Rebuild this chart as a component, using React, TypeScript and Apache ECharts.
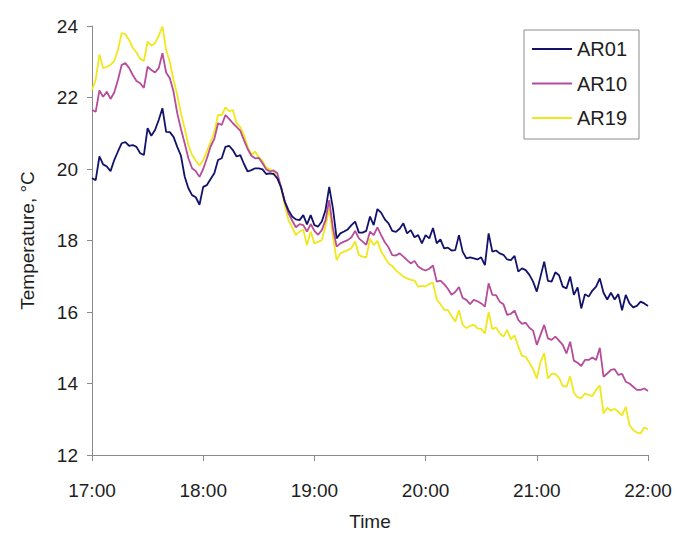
import React, { useEffect, useRef } from "react";
import * as echarts from "echarts";

// Tick labels of the time axis (one per hour)
const timeLabels = ["17:00", "18:00", "19:00", "20:00", "21:00", "22:00"];
const seriesNames = ["AR01", "AR10", "AR19"];
const seriesColors = ["#13126b", "#b64c9a", "#f0e81c"];
// readings every 2 minutes from 17:00
const sampleStepMinutes = 2;

const ar01 = [
  19.74, 19.69, 20.35, 20.13, 20.07, 19.94, 20.25, 20.49, 20.72, 20.75,
  20.65, 20.67, 20.62, 20.44, 20.39, 21.14, 20.93, 21.09, 21.37, 21.7,
  21.04, 21.03, 20.9, 20.62, 20.37, 19.79, 19.46, 19.27, 19.21, 19.0,
  19.5, 19.55, 19.72, 19.88, 20.25, 20.3, 20.62, 20.65, 20.53, 20.35,
  20.39, 20.14, 19.93, 19.97, 20.02, 20.02, 19.99, 19.86, 19.88, 19.86,
  19.74, 19.49, 19.09, 18.85, 18.67, 18.59, 18.57, 18.71, 18.45, 18.71,
  18.43, 18.39, 18.53, 18.85, 19.5, 18.9, 18.06, 18.2, 18.25, 18.31,
  18.43, 18.53, 18.22, 18.22, 18.27, 18.67, 18.43, 18.88, 18.78, 18.59,
  18.48, 18.27, 18.24, 18.33, 18.48, 18.2, 18.29, 18.09, 18.15, 17.92,
  18.15, 18.06, 18.35, 17.92, 18.03, 17.78, 17.8, 17.72, 17.73, 18.15,
  17.69, 17.5, 17.53, 17.5, 17.47, 17.53, 17.31, 18.2, 17.69, 17.72,
  17.64, 17.6, 17.47, 17.45, 17.57, 17.13, 17.22, 17.17, 17.04, 16.85,
  16.57, 16.99, 17.41, 16.87, 16.85, 17.11, 17.03, 16.71, 16.66, 16.99,
  16.48, 16.69, 16.1, 16.5, 16.43, 16.6, 16.71, 16.94, 16.54, 16.35,
  16.54, 16.35, 16.5, 16.05, 16.48, 16.24, 16.13, 16.17, 16.29, 16.24,
  16.17,
];

const ar10 = [
  21.65, 21.6, 22.2, 22.02, 22.16, 21.96, 22.14, 22.49, 22.91, 22.96,
  22.83, 22.63, 22.46, 22.4, 22.27, 22.86, 22.77, 22.7, 22.82, 23.24,
  22.7, 22.54, 22.16, 21.56, 21.12, 20.72, 20.3, 20.02, 19.94, 19.78,
  20.0, 20.3, 20.63, 20.84, 21.28, 21.23, 21.51, 21.4, 21.28, 21.18,
  21.07, 20.81, 20.56, 20.37, 20.3, 20.31, 20.16, 19.99, 19.93, 19.96,
  19.88, 19.49, 19.09, 18.76, 18.56, 18.37, 18.46, 18.43, 18.25, 18.46,
  18.27, 18.16, 18.29, 18.57, 19.13, 18.34, 17.83, 17.92, 17.97, 18.01,
  18.09, 18.27, 18.06, 17.97, 17.88, 18.25, 18.15, 18.37, 18.15, 17.95,
  17.81, 17.59, 17.58, 17.64, 17.55, 17.45, 17.36, 17.43, 17.27, 17.2,
  17.16, 17.21, 17.3, 16.85, 16.88, 16.78, 16.65, 16.48, 16.56, 16.7,
  16.39, 16.34, 16.22, 16.34, 16.3, 16.24, 16.15, 16.8, 16.48, 16.47,
  16.29, 16.22, 15.92, 15.95, 16.04, 15.78, 15.67, 15.7, 15.56, 15.48,
  15.08, 15.36, 15.64, 15.26, 15.22, 15.31, 15.2, 15.08, 14.84, 15.17,
  14.64, 14.58, 14.49, 14.66, 14.66, 14.73, 14.66, 15.0, 14.19, 14.28,
  14.38, 14.4, 14.24, 14.27, 14.05, 14.0, 13.91, 13.82, 13.82, 13.86,
  13.79,
];

const ar19 = [
  22.21, 22.5, 23.2, 22.82, 22.86, 22.91, 23.02, 23.33, 23.8, 23.77,
  23.61, 23.39, 23.26, 23.08, 23.02, 23.56, 23.45, 23.52, 23.73, 23.98,
  23.33, 23.0, 22.49, 22.07, 21.56, 21.14, 20.67, 20.39, 20.23, 20.1,
  20.25, 20.5, 20.75, 21.04, 21.51, 21.51, 21.72, 21.62, 21.65, 21.28,
  21.17, 20.95, 20.62, 20.4, 20.49, 20.33, 20.23, 20.04, 19.99, 19.93,
  19.74, 19.46, 18.99, 18.57, 18.37, 18.15, 18.25, 18.3, 17.87, 18.25,
  17.92, 17.96, 18.01, 18.4, 18.9, 18.11, 17.45, 17.64, 17.69, 17.73,
  17.79, 17.97, 17.59, 17.55, 17.53, 18.05, 17.87, 17.99, 17.69, 17.53,
  17.36, 17.29, 17.16, 17.08, 16.99, 16.94, 16.9, 16.88, 16.71, 16.73,
  16.71, 16.78, 16.82, 16.35, 16.22, 16.06, 16.06, 15.89, 15.73, 16.05,
  15.64, 15.55, 15.61, 15.65, 15.54, 15.53, 15.4, 16.0, 15.52, 15.57,
  15.4, 15.31, 15.5, 15.23, 15.35, 15.03, 14.77, 14.75, 14.58, 14.4,
  14.14, 14.6, 14.85, 14.14, 14.27, 14.27, 14.16, 13.93, 13.91, 14.2,
  13.74, 13.61, 13.59, 13.72, 13.68, 13.65, 13.82, 13.95, 13.16, 13.32,
  13.24, 13.29, 13.21, 13.11, 13.35, 12.84, 12.7, 12.63, 12.6, 12.77,
  12.72,
];

const FONT = "'Liberation Sans', Arial, sans-serif";
const TEXT_COLOR = "#1e1e1e";
const AXIS_COLOR = "#8a8a8a";

function toPairs(values: number[]) {
  return values.map((v, i) => [i * sampleStepMinutes, v]);
}

export default function App() {
  const ref = useRef<HTMLDivElement>(null);

  useEffect(() => {
    if (!ref.current) return;
    const chart = echarts.init(ref.current, undefined, { renderer: "svg" });
    const allSeries = [ar01, ar10, ar19];
    chart.setOption({
      animation: false,
      backgroundColor: "#ffffff",
      textStyle: { fontFamily: FONT },
      grid: { left: 92, right: 31, top: 26, bottom: 82, containLabel: false },
      legend: {
        orient: "vertical",
        left: 524,
        top: 30,
        padding: [9, 12, 11, 8],
        itemWidth: 40,
        itemHeight: 2,
        itemGap: 14.5,
        icon: "rect",
        borderColor: "#8c8c8c",
        borderWidth: 1,
        backgroundColor: "#ffffff",
        textStyle: { fontSize: 20, color: TEXT_COLOR, fontFamily: FONT },
        data: seriesNames,
      },
      xAxis: {
        type: "value",
        min: 0,
        max: 300,
        interval: 60,
        name: "Time",
        nameLocation: "middle",
        nameGap: 57,
        nameTextStyle: { fontSize: 19, color: TEXT_COLOR, fontFamily: FONT },
        axisLine: { show: true, lineStyle: { color: AXIS_COLOR, width: 1 } },
        axisTick: { show: true, length: 6, inside: false, lineStyle: { color: AXIS_COLOR } },
        axisLabel: {
          fontSize: 19,
          color: TEXT_COLOR,
          fontFamily: FONT,
          margin: 26,
          formatter: (v: number) => timeLabels[Math.round(v / 60)] ?? "",
        },
        splitLine: { show: false },
      },
      yAxis: {
        type: "value",
        min: 12,
        max: 24,
        interval: 2,
        name: "Temperature, °C",
        nameLocation: "middle",
        nameGap: 55,
        nameRotate: 90,
        nameTextStyle: { fontSize: 19, color: TEXT_COLOR, fontFamily: FONT },
        axisLine: { show: true, lineStyle: { color: AXIS_COLOR, width: 1 } },
        axisTick: { show: true, length: 5, inside: false, lineStyle: { color: AXIS_COLOR } },
        axisLabel: { fontSize: 19, color: TEXT_COLOR, fontFamily: FONT, margin: 14 },
        splitLine: { show: false },
      },
      series: seriesNames.map((name, k) => ({
        name,
        type: "line",
        data: toPairs(allSeries[k]),
        symbol: "none",
        color: seriesColors[k],
        lineStyle: { color: seriesColors[k], width: 1.8 },
        z: 3 - k,
      })),
    });
    return () => chart.dispose();
  }, []);

  return (
    <div
      ref={ref}
      style={{ position: "fixed", left: 0, top: 0, width: 679, height: 537, background: "#fff" }}
    />
  );
}
